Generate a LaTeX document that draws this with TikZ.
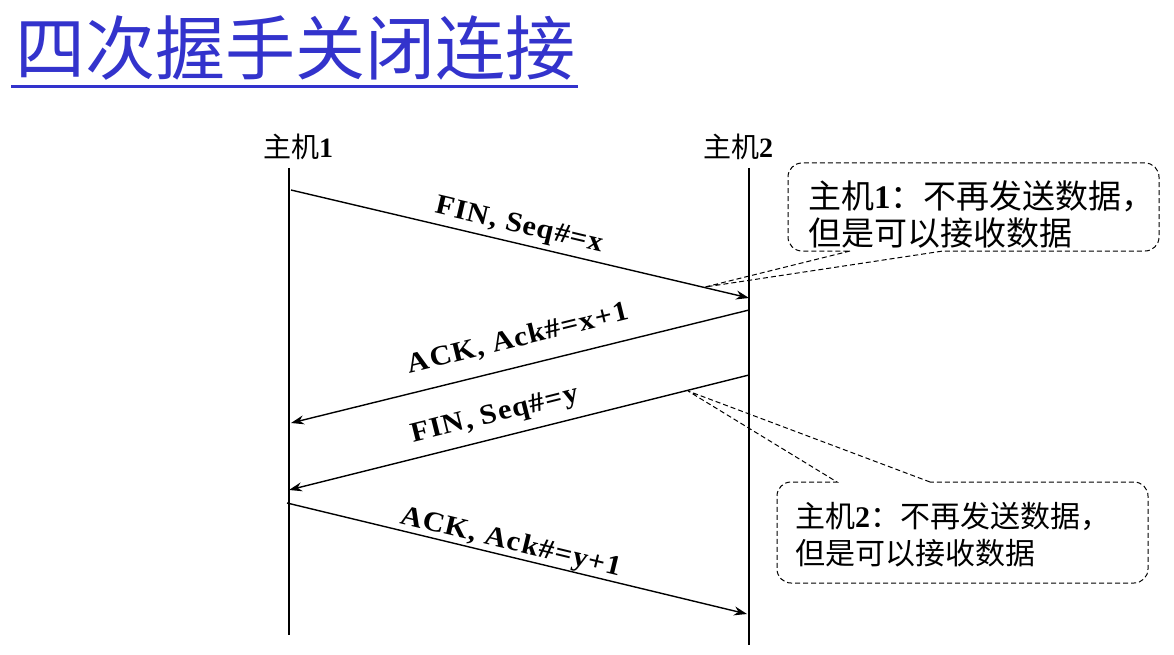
\documentclass[tikz,border=0pt]{standalone}
\usepackage{fontspec}
\setmainfont{Liberation Serif}
\newfontfamily\cjk{Noto Sans CJK SC}
\newfontfamily\lblfont[FakeStretch=1.08,LetterSpace=4]{Liberation Serif}
\newfontfamily\digitfont{Liberation Serif}
\usetikzlibrary{arrows.meta,calc}
\definecolor{titleblue}{RGB}{51,51,204}
\begin{document}
\begin{tikzpicture}[x=1pt,y=-1pt,
  lifeline/.style={line width=1.2pt},
  msg/.style={line width=1.4pt},
  tip/.style={-{Stealth[length=13pt,width=9pt]}},
  tipback/.style={{Stealth[length=13pt,width=9pt]}-},
  msglabel/.style={font=\lblfont\bfseries\fontsize{28}{28}\selectfont, sloped, inner sep=0pt, text depth=0pt},
  hostlabel/.style={font=\cjk\fontsize{28}{28}\selectfont, inner sep=0pt},
  callout/.style={dash pattern=on 5pt off 3pt, line width=1pt},
  notetext/.style={align=left, inner sep=0pt, anchor=base west}
]
\useasboundingbox (0,0) rectangle (1174,655);

% title
\node[anchor=base west, inner sep=0pt, text=titleblue, font=\cjk\fontsize{70}{70}\selectfont] (title) at (15,75) {四次握手关闭连接};
\draw[titleblue, line width=3pt] ($(title.base west)+(-4,12)$) -- ($(title.base east)+(3,12)$);

% hosts
\node[hostlabel] (host1) at (298,147) {主机\textbf{\digitfont 1}};
\node[hostlabel] (host2) at (738,147) {主机\textbf{\digitfont 2}};
\coordinate (h1top) at (289,168);
\coordinate (h1bot) at (289,635);
\coordinate (h2top) at (749,168);
\coordinate (h2bot) at (749,645);
\draw[lifeline] (h1top) -- (h1bot);
\draw[lifeline] (h2top) -- (h2bot);

% message end points
\coordinate (m1s) at (291,190);
\coordinate (m1e) at (749,298);
\coordinate (m2e) at (291,423);
\coordinate (m2s) at (749,310);
\coordinate (m3e) at (289,490);
\coordinate (m3s) at (749,375);
\coordinate (m4s) at (287,503);
\coordinate (m4e) at (747,614);

\draw[msg,tip] (m1s) -- node[msglabel, pos=0.49, above=10pt] {FIN, Seq\#=x} (m1e);
\draw[msg,tipback] (m2e) -- node[msglabel, pos=0.51, above=19pt] {ACK, Ack\#=x+1} (m2s);
\draw[msg,tipback] (m3e) -- node[msglabel, pos=0.46, above=15pt] {FIN, Seq\#=y} (m3s);
\draw[msg,tip] (m4s) -- node[msglabel, pos=0.48, above=6pt] {ACK, Ack\#=y+1} (m4e);

% callout 1
\node[notetext, font=\cjk\fontsize{33}{37}\selectfont] (note1) at (808,245) {主机\textbf{\digitfont 1}：不再发送数据，\\但是可以接收数据};
\coordinate (t1) at (705,287);
\draw[callout] (850,251) -- (t1) -- (943,251) [rounded corners=14pt] -- (1159,251) -- (1159,163) -- (788,163) -- (788,251) [sharp corners] -- (850,251);

% callout 2
\node[notetext, font=\cjk\fontsize{30}{37}\selectfont] (note2) at (795,564) {主机\textbf{\digitfont 2}：不再发送数据，\\但是可以接收数据};
\coordinate (t2) at (688,391);
\draw[callout] (930,482) -- (t2) -- (837,482) [rounded corners=14pt] -- (777,482) -- (777,583) -- (1148,583) -- (1148,482) [sharp corners] -- (930,482);
\end{tikzpicture}
\end{document}
